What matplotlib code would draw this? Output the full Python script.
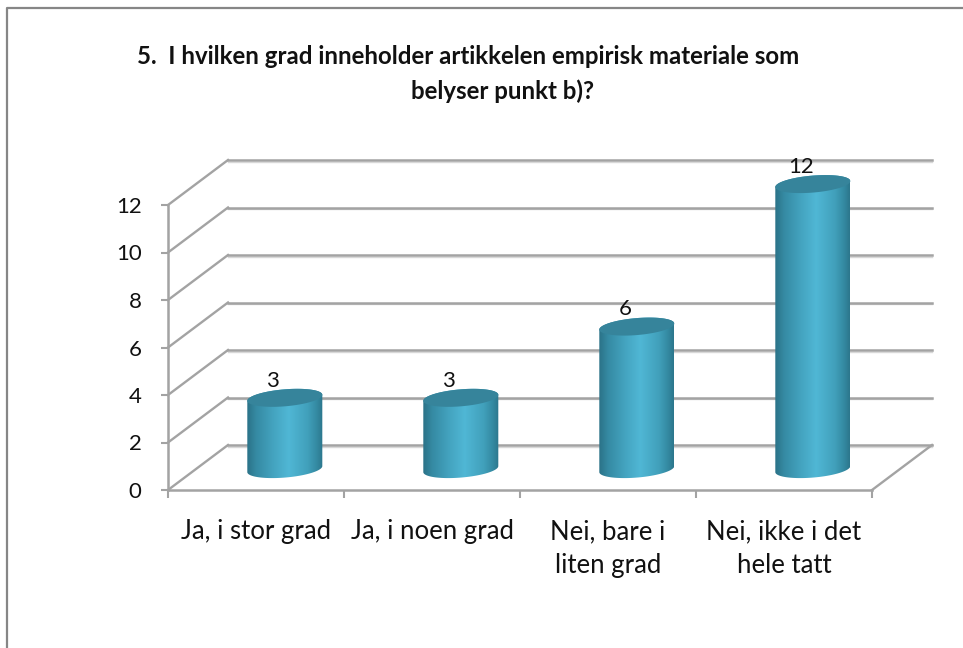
import numpy as np
import matplotlib
matplotlib.use("Agg")
import matplotlib.pyplot as plt
from matplotlib.colors import LinearSegmentedColormap
from matplotlib.lines import Line2D
from matplotlib.patches import Polygon

title_lines = ["5.  I hvilken grad inneholder artikkelen empirisk materiale som", "belyser punkt b)?"]
categories = ["Ja, i stor grad", "Ja, i noen grad", "Nei, bare i\nliten grad", "Nei, ikke i det\nhele tatt"]
values = [3, 3, 6, 12]
yticks = [0, 2, 4, 6, 8, 10, 12]

W, H = 963, 648
plt.rcParams['font.family'] = ['Lato', 'DejaVu Sans']

fig = plt.figure(figsize=(W / 100, H / 100), dpi=100)
# front plane of the 3d box
ax = fig.add_axes([168 / W, 1 - 490 / H, 704 / W, 285 / H])
ax.set_xlim(0, len(categories))
ax.set_ylim(0, 12)

# depth of the box in data units
dx = 60 / 176
dy = 45 / 23.75
grey = "#a3a3a3"

for y in yticks:
    ax.plot([0, dx], [y, y + dy], color=grey, lw=1.7, clip_on=False, zorder=1)
    ax.plot([dx, len(categories) + dx], [y + dy, y + dy], color=grey, lw=1.8, clip_on=False, zorder=1)
    ax.plot([dx, len(categories) + dx], [y + dy - 0.07, y + dy - 0.07], color="#d8d8d8", lw=1, clip_on=False, zorder=0.9)
ax.plot([len(categories), len(categories) + dx], [0, dy], color=grey, lw=1.7, clip_on=False, zorder=1)

for s in ["top", "right"]:
    ax.spines[s].set_visible(False)
for s in ["left", "bottom"]:
    ax.spines[s].set_color(grey)
    ax.spines[s].set_linewidth(1.8)

ax.set_yticks(yticks)
ax.set_xticks(range(len(categories) + 1))
ax.set_xticklabels([])
ax.set_xticks(np.arange(len(categories)) + 0.5, labels=categories, minor=True)
ax.tick_params(axis="x", which="major", length=6, width=1.5, color=grey)
ax.tick_params(axis="x", which="minor", length=0, labelsize=18.5, pad=21, colors="#111111")
ax.tick_params(axis="y", length=5, width=1.5, color=grey, labelsize=16, pad=14, labelcolor="#111111")
for lab in ax.get_xticklabels(minor=True):
    lab.set_linespacing(1.42)

cmap = LinearSegmentedColormap.from_list("cyl", [
    (0, "#2b7287"), (0.12, "#358aa3"), (0.35, "#44a4c0"), (0.55, "#50b7d5"),
    (0.8, "#41a0bb"), (0.92, "#348aa2"), (1, "#2c768c")])
grad = np.linspace(0, 1, 256).reshape(1, -1)

half_w = 37.5 / 176
half_h = 8.5 / 23.75
tilt = 3 / 23.75
t = np.linspace(0, 2 * np.pi, 200)

for i, v in enumerate(values):
    cx = i + 0.5 + 0.48 * dx
    base = 0.465 * dy
    ex = half_w * np.cos(t)
    ey = half_h * np.sin(t) + tilt * np.cos(t)
    low = t >= np.pi
    # body outline: top ellipse upper half, bottom ellipse lower half
    bx = np.r_[cx + ex[~low], cx + ex[low]]
    by = np.r_[base + v + ey[~low], base + ey[low]]
    clip = Polygon(np.c_[bx, by], closed=True, transform=ax.transData, fc="none", ec="none")
    ax.add_patch(clip)
    clip.set_clip_on(False)
    im = ax.imshow(grad, cmap=cmap, aspect="auto", interpolation="bilinear",
                   extent=[cx - half_w, cx + half_w, base - 1, base + v + 1], zorder=3)
    im.set_clip_box(fig.bbox)
    im.set_clip_path(clip)
    ax.fill(cx + ex, base + v + ey, color="#36849b", lw=0, clip_on=False, zorder=4)
    ax.text(cx - 12 / 176, base + v + 0.3, str(v), ha="center", va="bottom",
            fontsize=16, color="#111111", clip_on=False, zorder=5)

ax.set_xlim(0, len(categories))
ax.set_ylim(0, 12)

fig.text(468 / W, 1 - 57 / H, title_lines[0], ha="center", va="center", fontsize=17.3,
         fontweight="bold", color="#111111")
fig.text(502 / W, 1 - 91 / H, title_lines[1], ha="center", va="center", fontsize=17.3,
         fontweight="bold", color="#111111")

# outer chart border
fig.add_artist(Line2D([7 / W, 7 / W, 1], [0, 1 - 8 / H, 1 - 8 / H], color="#868686", lw=1.6))

fig.savefig("out.png", dpi=100)
